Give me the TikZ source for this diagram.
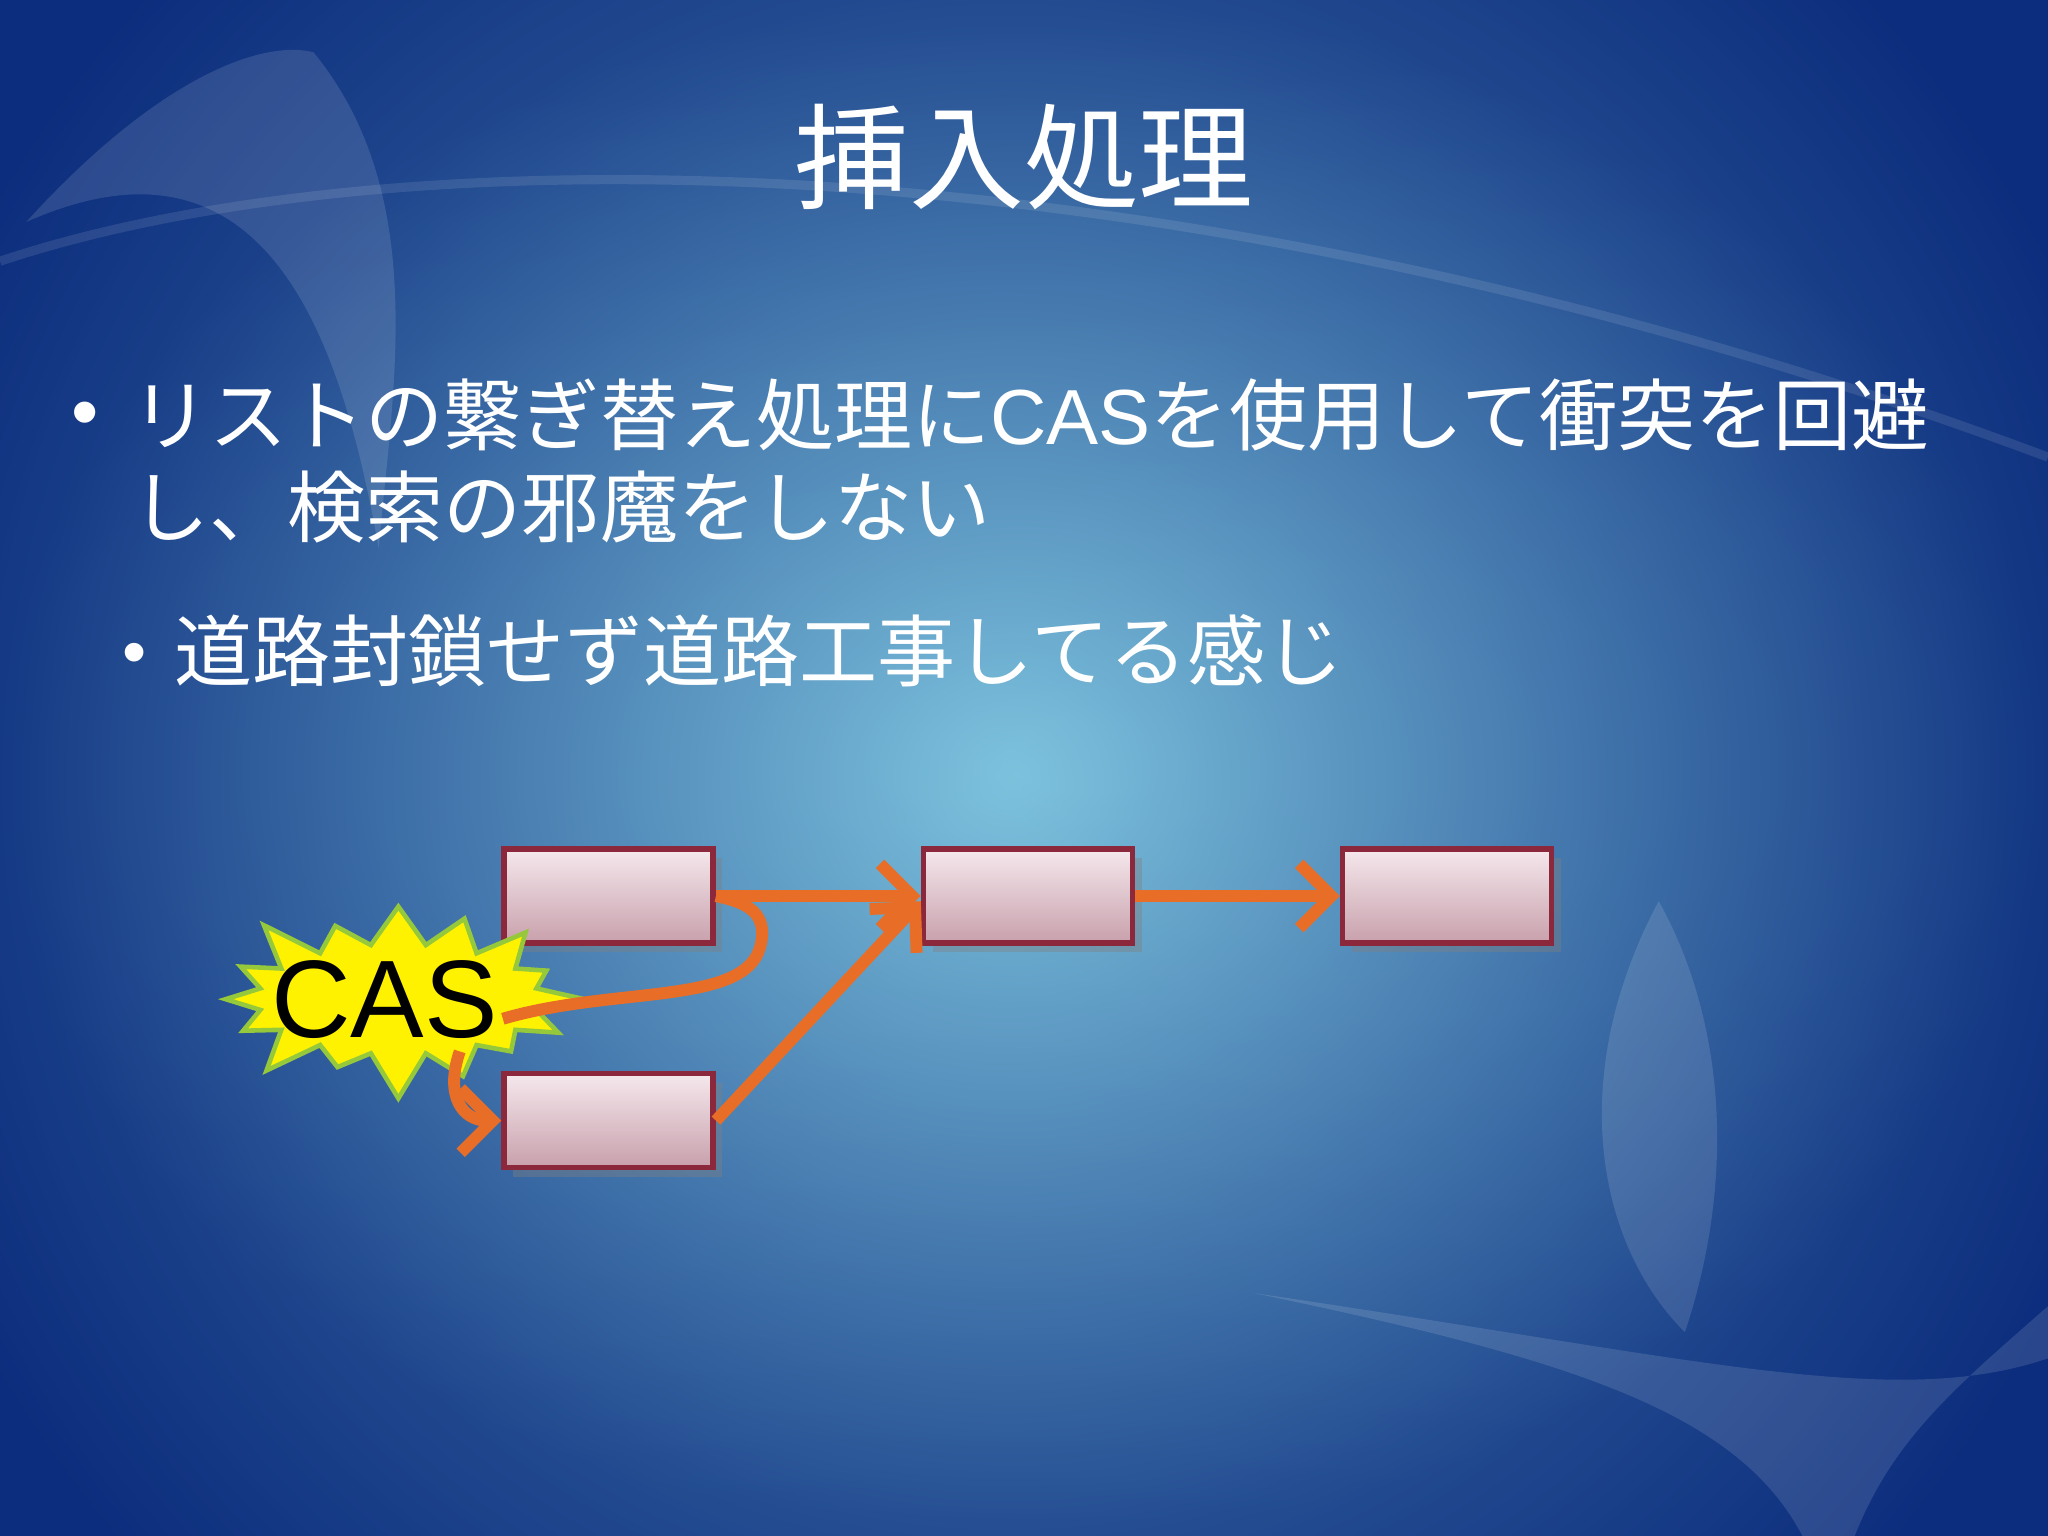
\documentclass[tikz,border=0pt]{standalone}
\usepackage{fontspec}
\setmainfont{Liberation Sans}
\newfontfamily\cjk{Noto Sans CJK JP}
\usetikzlibrary{shapes.symbols,arrows.meta,shadows}
\definecolor{org}{RGB}{232,110,40}
\definecolor{boxtop}{RGB}{245,232,236}
\definecolor{boxbot}{RGB}{200,160,172}
\definecolor{boxline}{RGB}{140,40,60}
\tikzset{
  lbox/.style={draw=boxline,line width=1.2pt,top color=boxtop,bottom color=boxbot,minimum width=1.6cm,minimum height=0.72cm,inner sep=0pt,drop shadow={opacity=0.4,shadow xshift=2pt,shadow yshift=-2pt}},
  link/.style={draw=org,line width=2.6pt,-{Straight Barb[length=7pt,width=14pt]}},
  bul/.style={anchor=base west,inner sep=0pt,text=white,font=\cjk\fontsize{17pt}{20pt}\selectfont}
}
\begin{document}
\begin{tikzpicture}[x=0.01cm,y=-0.01cm]
\useasboundingbox (0,0) rectangle (1568,1176);
\shade[inner color={rgb,255:red,125;green,195;blue,222},outer color={rgb,255:red,12;green,45;blue,125}] (0,0) rectangle (1568,1176);
\begin{scope}
\clip (0,0) rectangle (1568,1176);
\shade[inner color={rgb,255:red,125;green,195;blue,222},outer color={rgb,255:red,12;green,45;blue,125},opacity=0.6] (770,600) circle (900);
\end{scope}
% decorative faint shapes
\fill[white,opacity=0.12] (20,170) .. controls (120,60) and (200,30) .. (240,40) .. controls (330,150) and (300,300) .. (290,420) .. controls (260,250) and (200,90) .. (20,170) -- cycle;
\fill[white,opacity=0.12] (1270,690) .. controls (1200,820) and (1220,950) .. (1290,1020) .. controls (1330,900) and (1320,780) .. (1270,690) -- cycle;
\fill[white,opacity=0.12] (960,990) .. controls (1200,1040) and (1330,1080) .. (1380,1176) -- (1420,1176) .. controls (1450,1100) and (1500,1060) .. (1568,1000) -- (1568,1040) .. controls (1450,1080) and (1300,1040) .. (960,990) -- cycle;
\draw[white,opacity=0.1,line width=2pt] (0,200) .. controls (300,100) and (900,100) .. (1568,350);
% title
\node[text=white,font=\cjk\fontsize{25pt}{28pt}\selectfont] (title) at (784,120) {挿入処理};
% bullets
\node[text=white,font=\fontsize{17pt}{20pt}\selectfont] (b1) at (65,322) {•};
\node[bul] (t1) at (100,340) {リストの繋ぎ替え処理に{\fontspec{Liberation Sans}CAS}を使用して衝突を回避};
\node[bul] (t2) at (100,411) {し、検索の邪魔をしない};
\node[text=white,font=\fontsize{15pt}{18pt}\selectfont] (b2) at (103,505) {•};
\node[bul] (t3) at (133,521) {道路封鎖せず道路工事してる感じ};
% boxes
\node[lbox] (A) at (466,686) {};
\node[lbox] (B) at (787,686) {};
\node[lbox] (C) at (1108,686) {};
\node[lbox] (D) at (466,858) {};
\draw[link] (A.east) -- (B.west);
\draw[link] (B.east) -- (C.west);
\coordinate (bin) at (705,690);
\draw[link] (D.east) -- (bin);
% CAS
\node[starburst,starburst points=16,starburst point height=0.4cm,fill=yellow,draw={rgb,255:red,150;green,200;blue,60},line width=1pt,minimum width=2.45cm,minimum height=1.3cm,inner sep=0pt,font=\fontsize{24pt}{26pt}\selectfont] (cas) at (305,765) {\hspace*{-6pt}CAS};
\coordinate (c1) at (385,780);
\coordinate (c2) at (352,805);
\draw[org,line width=2.6pt] (c1) .. controls (470,755) and (570,770) .. (582,725) .. controls (590,695) and (565,690) .. (A.east);
\draw[link] (c2) .. controls (340,840) and (355,858) .. (D.west);
\end{tikzpicture}
\end{document}
